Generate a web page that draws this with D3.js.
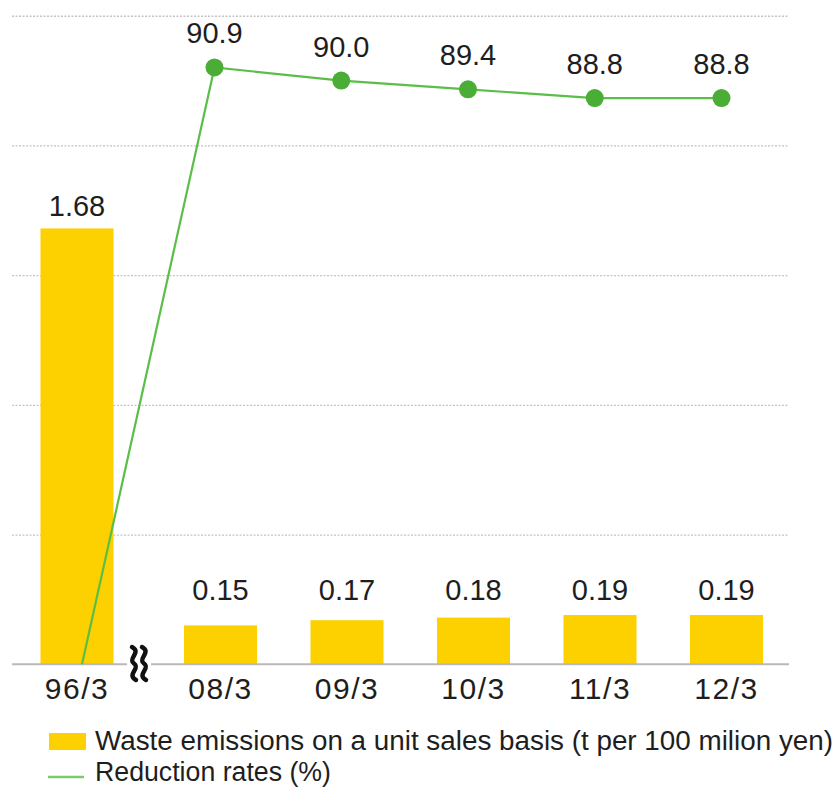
<!DOCTYPE html>
<html>
<head>
<meta charset="utf-8">
<script src="https://cdn.jsdelivr.net/npm/d3@7"></script>
<style>
  html, body { margin: 0; padding: 0; background: #fff; overflow: hidden; }
  svg { display: block; }
  text { font-family: "Liberation Sans", Arial, sans-serif; fill: #1e1e1e; }
</style>
</head>
<body>
<svg id="chart" width="837" height="787"></svg>
<script>
// Fiscal years (March year-end)
const categories = ["96/3", "08/3", "09/3", "10/3", "11/3", "12/3"];
// Waste emissions on a unit sales basis (t per 100 million yen)
const emissions = [1.68, 0.15, 0.17, 0.18, 0.19, 0.19];
// Reduction rates versus the 96/3 base year (%)
const reduction = [0, 90.9, 90.0, 89.4, 88.8, 88.8];
const reductionLabels = [null, "90.9", "90.0", "89.4", "88.8", "88.8"];
// Left-axis gridline values
const gridTicks = [0.5, 1.0, 1.5, 2.0, 2.5];
const legendItems = [
  "Waste emissions on a unit sales basis (t per 100 milion yen)",
  "Reduction rates (%)"
];

const svg = d3.select("#chart");
const plotLeft = 12, plotRight = 789, baseY = 664.3, topY = 15.7;
const barWidth = 73;
const yellow = "#FDD000", green = "#4AAD36", lineGreen = "#5BBE48";

// x position by index: the base year sits before a scale break
const xIdx = d3.scaleLinear().domain([0, 1, 5]).range([77, 220.5, 726.5]);
const x = d => xIdx(categories.indexOf(d));
// the rate line runs slightly left of the bar centres
const xLine = d3.scaleLinear().domain([0, 1, 5]).range([82, 214.5, 721.5]);

const y = d3.scaleLinear().domain([0, 2.5]).range([baseY, topY]);
// reduction-rate axis: compressed below 85% so the recent years spread out
const yR = d3.scaleLinear().domain([0, 85, 95]).range([baseY, 153.6, 7.6]);

// gridlines
const grid = d3.axisRight(y).tickValues(gridTicks).tickSize(plotRight - plotLeft).tickFormat("");
const gg = svg.append("g").attr("transform", `translate(${plotLeft},0)`).call(grid);
gg.select(".domain").remove();
gg.selectAll(".tick line")
  .attr("stroke", "#c4c4c4")
  .attr("stroke-width", 1.4)
  .attr("stroke-dasharray", "2,1.5");

// bars
svg.append("g").selectAll("rect").data(categories).join("rect")
  .attr("x", d => x(d) - barWidth / 2)
  .attr("width", barWidth)
  .attr("y", (d, i) => y(emissions[i]))
  .attr("height", (d, i) => baseY - y(emissions[i]))
  .attr("fill", yellow);

// baseline
svg.append("line")
  .attr("x1", plotLeft).attr("x2", plotRight)
  .attr("y1", baseY).attr("y2", baseY)
  .attr("stroke", "#b9b9b9").attr("stroke-width", 2);

// scale-break mark between 96/3 and 08/3
const brk = svg.append("g").attr("transform", `translate(139,663.5)`);
brk.append("rect").attr("x", -12).attr("y", -3).attr("width", 24).attr("height", 6).attr("fill", "#fff");
[-5, 5].forEach(dx => {
  brk.append("path")
    .attr("d", `M${dx - 2},-16.5 C${dx + 8},-11 ${dx - 7},-5 ${dx},0 C${dx + 7},5 ${dx - 8},11 ${dx + 2},16.5`)
    .attr("fill", "none").attr("stroke", "#111").attr("stroke-width", 4.5).attr("stroke-linecap", "round");
});

// bar value labels
svg.append("g").selectAll("text").data(categories).join("text")
  .attr("x", d => x(d))
  .attr("y", (d, i) => Math.min(y(emissions[i]) - 12, 600))
  .attr("text-anchor", "middle")
  .attr("font-size", 29)
  .text((d, i) => emissions[i].toFixed(2));

// category labels
svg.append("g").selectAll("text").data(categories).join("text")
  .attr("x", d => x(d))
  .attr("y", 699)
  .attr("text-anchor", "middle")
  .attr("font-size", 30)
  .attr("letter-spacing", 1.5)
  .text(d => d);

// reduction rate line
const line = d3.line().x((d, i) => xLine(i)).y(d => yR(d));
svg.append("path").datum(reduction)
  .attr("d", line)
  .attr("fill", "none")
  .attr("stroke", lineGreen)
  .attr("stroke-width", 2.2);

const pts = reduction.map((v, i) => ({ i, v, label: reductionLabels[i] })).filter(p => p.label);
svg.append("g").selectAll("circle").data(pts).join("circle")
  .attr("cx", p => xLine(p.i)).attr("cy", p => yR(p.v))
  .attr("r", 9).attr("fill", green);
svg.append("g").selectAll("text").data(pts).join("text")
  .attr("x", p => xLine(p.i)).attr("y", p => yR(p.v) - 24)
  .attr("text-anchor", "middle")
  .attr("font-size", 29)
  .text(p => p.label);

// legend
const lg = svg.append("g");
lg.append("rect").attr("x", 49).attr("y", 733).attr("width", 37).attr("height", 17).attr("fill", yellow);
lg.append("line").attr("x1", 48).attr("x2", 84).attr("y1", 777).attr("y2", 777)
  .attr("stroke", "#7CCB6A").attr("stroke-width", 2.5);
const legendWidths = [738, 236];
lg.selectAll("text").data(legendItems).join("text")
  .attr("x", 95)
  .attr("y", (d, i) => 750 + i * 31)
  .attr("font-size", 27)
  .attr("textLength", (d, i) => legendWidths[i])
  .attr("lengthAdjust", "spacingAndGlyphs")
  .text(d => d);
</script>
</body>
</html>
